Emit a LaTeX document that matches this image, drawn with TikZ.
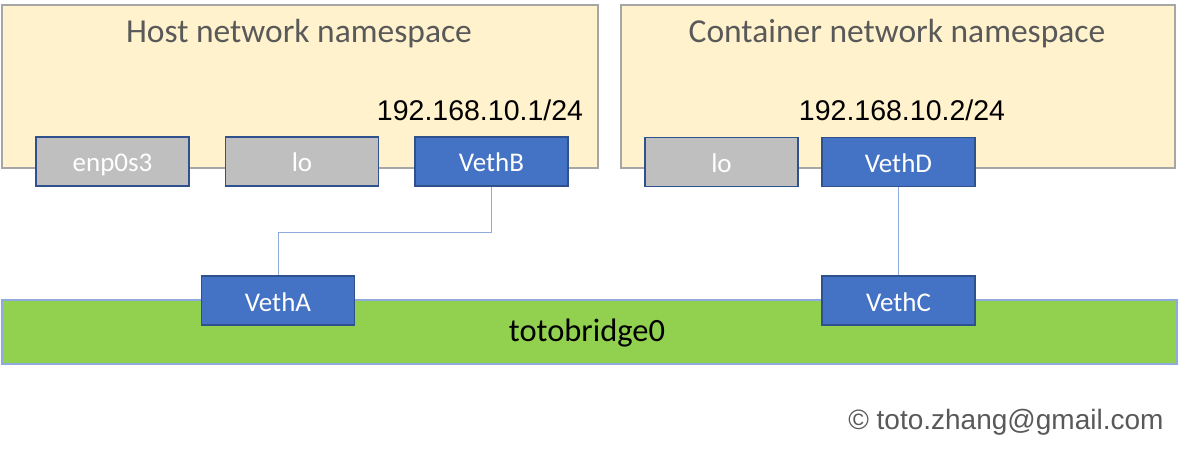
\documentclass[tikz,border=0pt]{standalone}
\usepackage{fontspec}
\setmainfont{Carlito}
\newfontfamily\arialfont{Liberation Sans}
\usetikzlibrary{positioning}
\definecolor{nsfill}{HTML}{FFF2CC}
\definecolor{nsline}{HTML}{A6A6A6}
\definecolor{ifblue}{HTML}{4472C4}
\definecolor{ifgray}{HTML}{BFBFBF}
\definecolor{ifline}{HTML}{2F528F}
\definecolor{brfill}{HTML}{92D050}
\definecolor{brline}{HTML}{8FAADC}
\definecolor{txtgray}{HTML}{595959}

\begin{document}
\begin{tikzpicture}[x=1pt, y=-1pt,
    nsbox/.style={draw=nsline, fill=nsfill, line width=1.3pt, minimum width=596pt, minimum height=163pt, inner sep=0pt},
    nstitle/.style={text=txtgray, font=\fontsize{33.5}{40}\selectfont},
    iface/.style={draw=ifline, line width=1.3pt, minimum width=153pt, minimum height=49pt, inner sep=0pt,
      text height=22pt, text depth=1pt, text=white, font=\fontsize{27}{32}\selectfont},
    veth/.style={iface, fill=ifblue},
    lonic/.style={iface, fill=ifgray},
    ipaddr/.style={font=\arialfont\fontsize{28.5}{34}\selectfont},
    link/.style={draw=brline, line width=1pt}]
  \useasboundingbox (0,0) rectangle (1185,454);
  % ---------------------------------------------------------------- the two namespaces
  \node[nsbox] (host) at (300,86.5) {};
  \node[nsbox, minimum width=554pt] (cont) at (898,86.5) {};
  \node[nstitle] (hosttitle) at (299,34) {Host network namespace};
  \node[nstitle] (conttitle) at (897,34) {Container network namespace};
  \node[ipaddr] (hostip) at (480,110) {192.168.10.1/24};
  \node[ipaddr] (contip) at (902,110) {192.168.10.2/24};
  % ---------------------------------------------------------------- the bridge
  \node[draw=brline, fill=brfill, line width=1.3pt, minimum width=1175pt, minimum height=64pt, inner sep=0pt] (bridge) at (589.5,332) {};
  \node[font=\fontsize{32.5}{38}\selectfont] (brname) at (587,333) {totobridge0};
  % ---------------------------------------------------------------- interfaces
  \node[lonic] (enp) at (112.5,161.5) {enp0s3};
  \node[lonic] (hostlo) at (302,161.5) {lo};
  \node[veth] (vethB) at (491.5,161.5) {VethB};
  \node[lonic] (contlo) at (721.5,162) {lo};
  \node[veth] (vethD) at (898.5,162) {VethD};
  \node[veth] (vethA) at (278,300.5) {VethA};
  \node[veth] (vethC) at (898.5,300.5) {VethC};
  % the veth pairs
  \draw[link] (vethB.south) -- ++(0,46) -| (vethA.north);
  \draw[link] (vethD.south) -- (vethC.north);
  \node[text=txtgray, font=\arialfont\fontsize{28}{34}\selectfont, anchor=east] (mail) at (1167,422) {© toto.zhang@gmail.com};
\end{tikzpicture}
\end{document}
